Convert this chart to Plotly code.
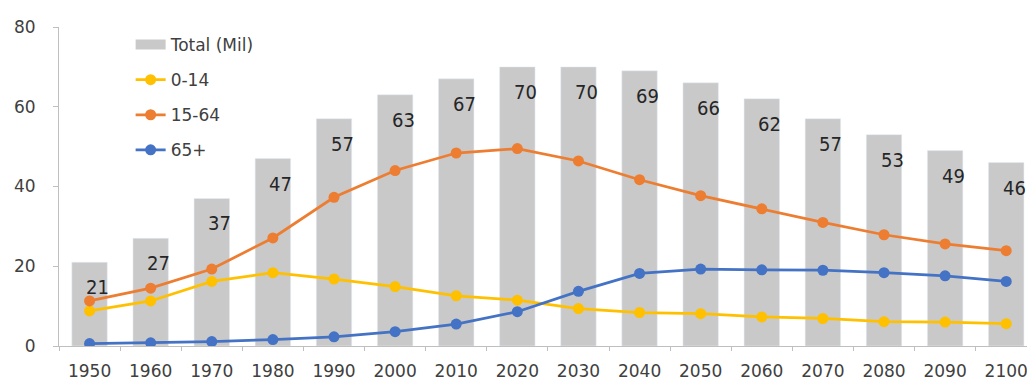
import plotly.graph_objects as go

# Population by age group, millions
years = ["1950", "1960", "1970", "1980", "1990", "2000", "2010", "2020",
         "2030", "2040", "2050", "2060", "2070", "2080", "2090", "2100"]
total = [21, 27, 37, 47, 57, 63, 67, 70, 70, 69, 66, 62, 57, 53, 49, 46]
age_0_14 = [8.8, 11.3, 16.2, 18.4, 16.8, 14.9, 12.6, 11.5,
            9.4, 8.4, 8.1, 7.3, 6.9, 6.1, 6.0, 5.6]
age_15_64 = [11.3, 14.5, 19.3, 27.1, 37.3, 44.0, 48.4, 49.5,
             46.4, 41.7, 37.7, 34.4, 31.0, 27.9, 25.6, 23.9]
age_65_plus = [0.6, 0.8, 1.1, 1.6, 2.3, 3.6, 5.5, 8.6,
               13.7, 18.2, 19.3, 19.1, 19.0, 18.4, 17.6, 16.2]

BAR_GREY = "#C9C9C9"
AXIS_GREY = "#BFBFBF"
TEXT = "#404040"
LEGEND_FONT = dict(family="DejaVu Sans", size=17, color=TEXT)

fig = go.Figure()

fig.add_trace(go.Bar(
    x=years, y=total, name="Total (Mil)", marker_color=BAR_GREY,
    width=0.58, showlegend=False, legendgroup="total",
))
# wide grey swatch for the totals in the legend
fig.add_trace(go.Scatter(
    x=[None], y=[None], mode="lines", name="Total (Mil)",
    line=dict(color=BAR_GREY, width=11), legendgroup="total",
))

series = [
    ("0-14", age_0_14, "#FFC000"),
    ("15-64", age_15_64, "#ED7D31"),
    ("65+", age_65_plus, "#4472C4"),
]
for name, vals, color in series:
    fig.add_trace(go.Scatter(
        x=years, y=vals, name=name, mode="lines+markers",
        line=dict(color=color, width=2.75),
        marker=dict(color=color, size=11),
        legendgroup=name,
    ))

# value labels inside the top of each bar (category index on the x axis)
for i, v in enumerate(total):
    fig.add_annotation(
        x=i, y=v, text=str(v), showarrow=False,
        yshift=-25, xshift=8,
        font=dict(family="DejaVu Sans Condensed, Liberation Sans Narrow, Lato",
                  size=20, color="#262626"),
    )

fig.update_layout(
    width=1027, height=380,
    margin=dict(l=59, r=0, t=27, b=34),
    paper_bgcolor="white", plot_bgcolor="white",
    bargap=0.4,
    legend=dict(
        x=0.074, y=1.0, xanchor="left", yanchor="top",
        font=LEGEND_FONT, bgcolor="rgba(255,255,255,0)",
        tracegroupgap=10, traceorder="grouped",
    ),
    xaxis=dict(
        type="category", range=[-0.5, 15.34],
        showline=True, linecolor=AXIS_GREY, linewidth=1,
        ticks="outside", tickson="boundaries", ticklen=4, tickcolor=AXIS_GREY,
        ticklabelstandoff=10,
        tickfont=dict(family="DejaVu Sans", size=17, color=TEXT),
        showgrid=False, zeroline=False,
    ),
    yaxis=dict(
        range=[0, 80], dtick=20,
        showline=True, linecolor=AXIS_GREY, linewidth=1,
        ticks="outside", ticklen=5, tickcolor=AXIS_GREY,
        ticklabelstandoff=14,
        tickfont=dict(family="DejaVu Sans", size=17, color=TEXT),
        showgrid=False, zeroline=False,
    ),
)

fig.write_html("out.html")
